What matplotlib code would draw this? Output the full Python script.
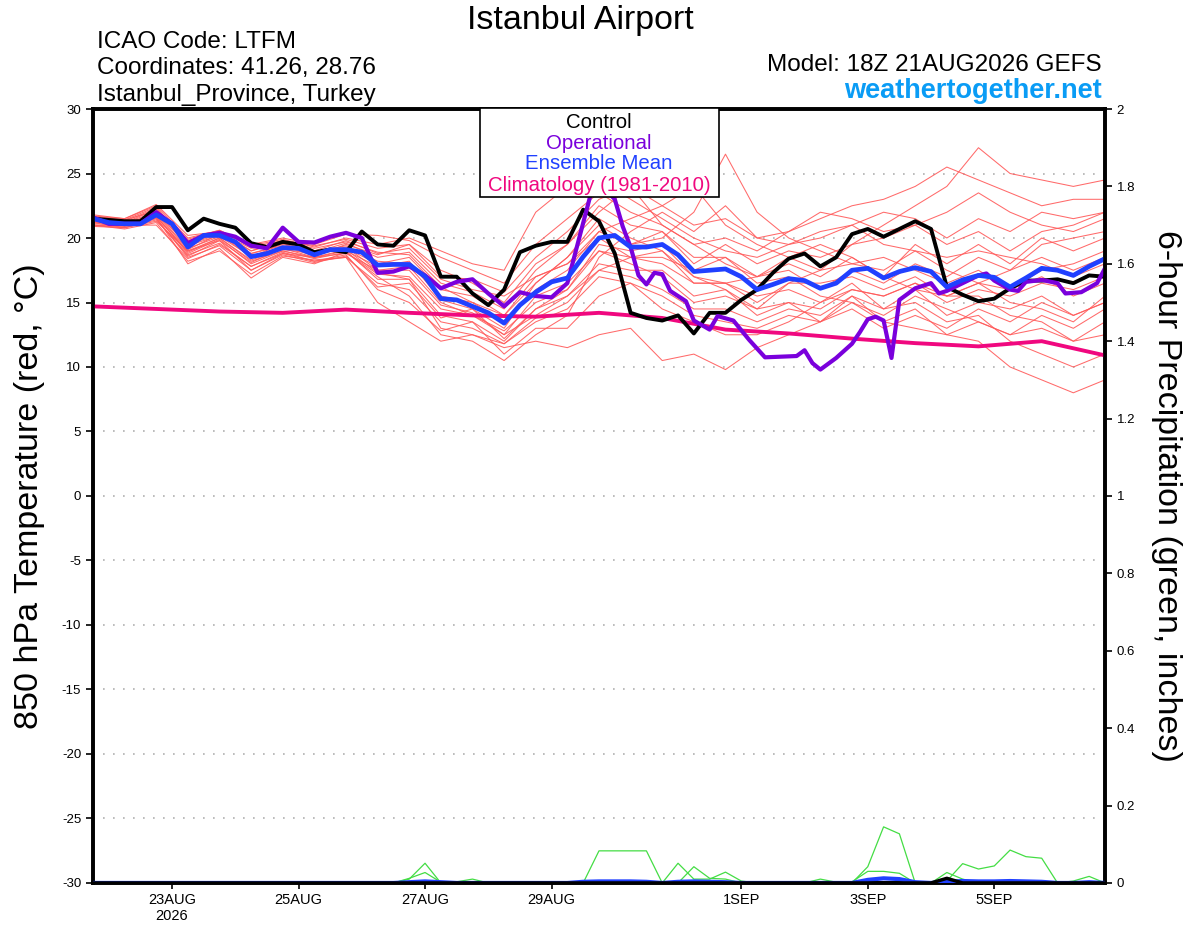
import matplotlib
matplotlib.use('Agg')
import matplotlib.pyplot as plt
from matplotlib.patches import Rectangle

plt.rcParams['font.family'] = ['Liberation Sans', 'DejaVu Sans']
plt.rcParams['axes.unicode_minus'] = False

# time axis: hours since 21AUG2026 18Z
hours6 = list(range(0, 385, 6))
hours12 = list(range(0, 385, 12))
hours24 = list(range(0, 385, 24))

date_ticks = [30, 78, 126, 174, 246, 294, 342]
date_labels = ['23AUG\n2026', '25AUG', '27AUG', '29AUG', '1SEP', '3SEP', '5SEP']

# 850 hPa temperature, deg C
control = [21.5, 21.4, 21.3, 21.3, 22.4, 22.4, 20.6, 21.5, 21.1, 20.8,
           19.6, 19.3, 19.7, 19.5, 18.9, 19.1, 18.9, 20.5, 19.5, 19.4,
           20.6, 20.2, 17.0, 17.0, 15.7, 14.8, 16.0, 18.9, 19.4, 19.7,
           19.7, 22.2, 21.3, 18.8, 14.2, 13.8, 13.6, 14.0, 12.6, 14.2,
           14.2, 15.2, 16.0, 17.3, 18.4, 18.8, 17.8, 18.5, 20.3, 20.7,
           20.1, 20.7, 21.3, 20.7, 16.2, 15.6, 15.1, 15.3, 16.1, 16.7,
           16.7, 16.8, 16.5, 17.1, 17.0]

ens_mean = [21.5, 21.2, 21.1, 21.1, 21.8, 21.1, 19.3, 20.2, 20.2, 19.7,
            18.55, 18.8, 19.25, 19.2, 18.7, 19.1, 19.1, 18.9, 17.9, 17.95,
            17.95, 17.0, 15.3, 15.2, 14.7, 14.2, 13.4, 14.8, 15.8, 16.6,
            16.9, 18.55, 20.0, 20.2, 19.3, 19.3, 19.5, 18.7, 17.4, 17.5,
            17.6, 17.0, 16.0, 16.4, 16.85, 16.7, 16.1, 16.5, 17.5, 17.65,
            16.9, 17.4, 17.7, 17.4, 16.2, 16.75, 17.1, 16.95, 16.2, 16.9,
            17.65, 17.5, 17.1, 17.8, 18.4]

op_hours = [0, 6, 12, 18, 24, 30, 36, 42, 48, 54, 60, 66, 72, 78, 84, 90,
            96, 102, 108, 114, 120, 126, 132, 138, 144, 150, 156, 162, 168,
            174, 180, 189, 192, 198, 201, 204, 207, 210, 213, 216, 219, 225,
            228, 234, 237, 243, 249, 255, 261, 267, 270, 273, 276, 282, 288,
            291, 294, 297, 300, 303, 306, 312, 315, 318, 321, 324, 330, 336,
            339, 342, 348, 351, 354, 360, 366, 369, 375, 381, 384]
op_temp = [21.6, 21.1, 21.1, 21.1, 22.0, 21.1, 19.6, 20.2, 20.4, 20.1, 19.4,
           19.2, 20.8, 19.7, 19.65, 20.1, 20.4, 20.0, 17.3, 17.4, 17.8, 17.1,
           16.1, 16.6, 16.8, 15.7, 14.7, 15.8, 15.5, 15.4, 16.5, 23.5, 24.3,
           23.0, 20.9, 19.3, 17.1, 16.4, 17.3, 17.2, 15.9, 15.1, 13.6, 12.9,
           13.95, 13.6, 12.1, 10.75, 10.8, 10.85, 11.3, 10.3, 9.8, 10.7, 11.8,
           12.7, 13.7, 13.9, 13.6, 10.7, 15.2, 16.1, 16.3, 16.5, 15.7, 15.9,
           16.5, 17.1, 17.25, 16.7, 16.0, 15.9, 16.6, 16.75, 16.5, 15.7, 15.8,
           16.5, 17.65]

climatology = [14.7, 14.5, 14.3, 14.2, 14.45, 14.2, 14.0, 13.9, 14.2,
               13.8, 12.9, 12.6, 12.2, 11.85, 11.6, 12.0, 10.9]

# ensemble members, 12-hourly
m01 = [21.3, 21.0, 22.0, 19.5, 20.3, 18.8, 19.5, 18.9, 19.6, 18.5, 18.9, 16.5, 15.8, 14.5, 17.5, 19.5, 22.5,
       21.0, 20.5, 18.0, 19.5, 18.0, 19.0, 18.5, 19.5, 20.0, 21.0, 19.5, 20.5, 19.0, 20.5, 21.0, 22.0]
m02 = [21.6, 21.3, 21.5, 18.6, 19.8, 17.5, 18.8, 18.2, 18.5, 16.5, 16.0, 13.5, 13.0, 11.8, 13.5, 14.5, 17.0,
       16.5, 15.5, 14.0, 13.5, 13.0, 14.0, 13.5, 15.0, 14.0, 15.5, 14.5, 13.5, 12.5, 14.0, 13.0, 14.5]
m03 = [21.0, 20.9, 21.6, 18.0, 19.2, 16.9, 18.5, 18.0, 18.9, 17.0, 15.5, 12.5, 12.0, 10.5, 12.5, 14.0, 18.5,
       20.5, 22.0, 20.5, 22.5, 20.0, 19.5, 20.0, 21.0, 19.5, 19.0, 17.5, 16.5, 15.0, 14.5, 13.5, 15.5]
m04 = [21.8, 21.5, 22.5, 20.0, 20.6, 19.5, 20.0, 19.5, 20.3, 20.2, 19.8, 18.5, 17.5, 16.5, 19.5, 21.5, 23.5,
       22.0, 21.0, 19.5, 18.0, 17.0, 18.0, 17.0, 18.5, 17.0, 19.5, 18.0, 19.5, 18.0, 20.0, 19.0, 20.0]
m05 = [21.2, 20.8, 21.3, 19.0, 20.0, 18.2, 19.0, 18.5, 18.8, 17.5, 17.8, 15.0, 14.0, 12.5, 14.0, 15.5, 18.0,
       17.5, 17.5, 15.5, 16.0, 14.5, 15.0, 14.5, 16.0, 15.5, 16.5, 15.0, 16.0, 15.5, 16.5, 16.0, 17.0]
m06 = [21.5, 21.2, 22.2, 19.8, 20.5, 19.0, 19.8, 19.0, 19.8, 18.8, 19.2, 16.8, 16.0, 15.5, 17.0, 18.0, 20.5,
       19.5, 20.0, 22.0, 26.5, 22.0, 20.0, 19.0, 18.0, 18.5, 17.5, 16.5, 17.5, 16.0, 17.0, 15.5, 16.5]
m07 = [21.1, 21.0, 21.0, 18.4, 19.5, 17.8, 18.8, 18.5, 19.0, 16.8, 16.8, 14.0, 13.5, 12.0, 14.5, 16.0, 19.0,
       18.5, 18.0, 16.5, 16.5, 15.0, 16.5, 17.5, 19.5, 21.0, 22.5, 24.0, 27.0, 25.0, 24.5, 24.0, 24.5]
m08 = [21.7, 21.4, 22.4, 19.6, 20.4, 19.2, 19.6, 18.7, 19.2, 18.0, 18.5, 16.0, 15.5, 14.0, 16.5, 18.5, 21.5,
       20.0, 19.0, 17.0, 16.5, 15.5, 16.0, 15.0, 16.5, 14.5, 15.0, 13.5, 14.0, 12.0, 11.0, 10.0, 11.0]
m09 = [21.4, 21.1, 21.9, 19.2, 20.1, 18.6, 19.3, 18.9, 19.4, 18.2, 18.0, 15.5, 15.0, 13.5, 16.0, 17.5, 20.5,
       21.5, 22.5, 21.0, 21.5, 20.0, 20.5, 21.5, 22.5, 23.0, 24.0, 25.5, 24.5, 23.5, 22.5, 23.0, 23.0]
m10 = [21.0, 20.7, 21.2, 18.2, 19.0, 17.2, 18.6, 18.3, 18.5, 15.0, 13.5, 12.0, 12.5, 11.5, 12.0, 11.5, 12.5,
       13.0, 10.5, 11.0, 9.8, 11.5, 12.5, 13.5, 14.5, 13.0, 14.0, 13.0, 14.5, 13.5, 15.0, 14.0, 15.0]
m11 = [21.6, 21.2, 22.0, 19.4, 20.2, 18.8, 19.4, 18.6, 19.5, 18.7, 19.5, 17.5, 16.5, 15.0, 18.0, 19.5, 22.0,
       24.0, 22.5, 24.0, 21.0, 19.5, 18.5, 19.5, 18.5, 17.0, 16.0, 15.5, 16.5, 17.5, 18.5, 17.5, 18.5]
m12 = [21.3, 20.9, 21.7, 18.8, 19.9, 18.0, 19.0, 18.4, 18.9, 17.2, 17.0, 14.5, 14.0, 12.8, 15.0, 16.0, 19.5,
       19.0, 19.5, 17.0, 16.0, 14.0, 15.0, 13.5, 15.5, 13.5, 14.5, 12.5, 12.0, 10.0, 9.0, 8.0, 9.0]
m13 = [21.5, 21.0, 21.8, 19.1, 20.3, 18.5, 19.6, 19.0, 19.0, 17.8, 18.2, 15.2, 14.5, 13.0, 16.5, 18.5, 21.0,
       19.5, 20.5, 18.5, 18.5, 17.0, 17.5, 16.0, 17.5, 16.5, 18.0, 17.0, 18.5, 17.5, 19.5, 20.0, 20.5]
m14 = [20.9, 20.8, 21.4, 18.7, 19.6, 17.8, 18.9, 18.2, 18.7, 16.0, 15.0, 12.8, 13.5, 11.0, 13.0, 13.0, 15.5,
       16.5, 14.5, 13.5, 12.5, 12.5, 13.5, 15.0, 16.0, 15.5, 16.5, 15.5, 15.5, 14.0, 13.5, 12.0, 12.5]
m15 = [21.7, 21.5, 22.6, 20.2, 20.5, 19.4, 19.9, 19.3, 20.0, 19.5, 20.0, 19.0, 18.0, 17.5, 22.0, 24.0, 24.5,
       23.0, 21.5, 20.0, 19.0, 18.5, 19.5, 20.5, 21.0, 22.0, 21.5, 20.0, 21.5, 20.5, 22.0, 21.5, 22.0]
m16 = [21.2, 21.1, 21.7, 18.9, 20.0, 18.3, 19.1, 18.8, 19.3, 17.5, 17.5, 14.8, 14.2, 12.5, 15.5, 16.5, 19.0,
       18.0, 17.0, 15.0, 15.5, 14.5, 16.5, 16.5, 17.0, 16.0, 17.0, 15.5, 16.5, 16.0, 17.5, 18.0, 19.0]
m17 = [21.4, 21.3, 22.3, 19.7, 20.4, 19.0, 19.7, 19.2, 19.7, 18.9, 18.7, 16.2, 15.0, 14.0, 17.0, 18.0, 20.0,
       18.5, 18.5, 17.5, 18.5, 16.5, 17.0, 15.5, 15.0, 13.5, 13.0, 12.5, 13.5, 12.5, 13.0, 12.0, 13.5]
m18 = [21.0, 20.8, 21.5, 18.5, 19.4, 17.5, 18.7, 18.1, 18.6, 16.2, 16.5, 13.8, 14.5, 12.2, 14.5, 15.5, 17.5,
       18.5, 19.0, 16.5, 16.5, 17.0, 18.5, 17.5, 18.0, 17.5, 19.0, 18.5, 19.0, 18.5, 18.0, 17.0, 18.0]
m19 = [21.6, 21.4, 22.1, 19.9, 20.6, 19.3, 19.8, 19.4, 19.9, 19.2, 19.5, 17.0, 16.8, 15.8, 18.5, 20.5, 23.0,
       24.0, 21.0, 19.5, 20.0, 19.0, 20.5, 22.0, 21.5, 20.5, 21.0, 22.0, 23.5, 22.0, 21.0, 20.5, 21.5]
m20 = [21.3, 21.0, 21.6, 19.0, 19.8, 18.1, 19.2, 18.5, 19.1, 17.3, 16.8, 13.0, 12.5, 11.8, 13.8, 15.0, 17.5,
       17.0, 16.0, 14.5, 14.5, 13.5, 14.5, 14.0, 15.5, 14.5, 16.0, 14.0, 15.0, 14.5, 15.5, 14.0, 15.0]
members = [m01, m02, m03, m04, m05, m06, m07, m08, m09, m10,
           m11, m12, m13, m14, m15, m16, m17, m18, m19, m20]

# 6-hour precipitation, inches (6-hourly, 65 values)
p01 = [0, 0, 0, 0, 0, 0, 0, 0, 0, 0, 0, 0, 0, 0, 0, 0, 0, 0, 0, 0, 0.01, 0.051, 0, 0, 0, 0, 0, 0, 0, 0, 0, 0,
       0.083, 0.083, 0.083, 0.083, 0, 0, 0, 0, 0, 0, 0, 0, 0, 0, 0, 0, 0, 0, 0, 0, 0, 0, 0, 0, 0, 0, 0, 0, 0,
       0, 0, 0, 0]
p02 = [0, 0, 0, 0, 0, 0, 0, 0, 0, 0, 0, 0, 0, 0, 0, 0, 0, 0, 0, 0, 0.012, 0.027, 0.002, 0.003, 0.01, 0, 0, 0,
       0, 0, 0, 0, 0, 0, 0, 0, 0, 0.051, 0.01, 0.01, 0.028, 0.005, 0, 0, 0, 0, 0, 0, 0, 0, 0, 0, 0, 0, 0, 0,
       0, 0, 0, 0, 0, 0, 0, 0, 0]
p03 = [0, 0, 0, 0, 0, 0, 0, 0, 0, 0, 0, 0, 0, 0, 0, 0, 0, 0, 0, 0, 0, 0, 0, 0, 0, 0, 0, 0, 0, 0, 0, 0, 0, 0,
       0, 0, 0, 0, 0.042, 0.012, 0.01, 0, 0, 0, 0, 0, 0.01, 0.002, 0.003, 0.03, 0.03, 0.025, 0, 0, 0, 0, 0, 0,
       0, 0, 0, 0, 0, 0, 0]
p04 = [0, 0, 0, 0, 0, 0, 0, 0, 0, 0, 0, 0, 0, 0, 0, 0, 0, 0, 0, 0, 0, 0, 0, 0, 0, 0, 0, 0, 0, 0, 0, 0, 0, 0,
       0, 0, 0, 0, 0, 0, 0, 0, 0, 0, 0, 0, 0, 0, 0, 0.042, 0.145, 0.127, 0, 0, 0.005, 0.05, 0.036, 0.044,
       0.085, 0.068, 0.064, 0, 0.005, 0.017, 0]
p05 = [0, 0, 0, 0, 0, 0, 0, 0, 0, 0, 0, 0, 0, 0, 0, 0, 0, 0, 0, 0, 0, 0, 0, 0, 0, 0, 0, 0, 0, 0, 0, 0, 0, 0,
       0, 0, 0, 0, 0, 0, 0, 0, 0, 0, 0, 0, 0, 0, 0, 0, 0, 0, 0, 0, 0.027, 0.01, 0, 0, 0, 0, 0, 0, 0, 0, 0]
precip_members = [p01, p02, p03, p04, p05]

pcp_mean = [0, 0, 0, 0, 0, 0, 0, 0, 0, 0, 0, 0, 0, 0, 0, 0, 0, 0, 0, 0, 0.002, 0.004, 0.002, 0, 0, 0, 0, 0,
            0, 0, 0, 0.003, 0.004, 0.004, 0.004, 0.003, 0, 0.003, 0.004, 0.003, 0.002, 0, 0, 0, 0, 0, 0, 0, 0,
            0.008, 0.012, 0.01, 0.002, 0, 0.003, 0.005, 0.004, 0.004, 0.005, 0.004, 0.003, 0, 0, 0.002, 0]
pcp_control = [0, 0, 0, 0, 0, 0, 0, 0, 0, 0, 0, 0, 0, 0, 0, 0, 0, 0, 0, 0, 0, 0, 0, 0, 0, 0, 0, 0, 0, 0, 0, 0,
               0, 0, 0, 0, 0, 0, 0, 0, 0, 0, 0, 0, 0, 0, 0, 0, 0, 0, 0, 0, 0, 0, 0.012, 0, 0, 0, 0, 0, 0, 0, 0,
               0, 0]

c_member = '#ff5a5a'
c_green = '#44dd44'
c_control = 'black'
c_op = '#7a00dc'
c_mean = '#2040ff'
c_clim = '#f0087f'

fig = plt.figure(figsize=(12, 9.27), dpi=100)
ax = fig.add_axes([0.0775, 0.0475, 0.8433, 0.8349])
ax2 = ax.twinx()

for m in members:
    ax.plot(hours12, m, color=c_member, lw=0.75, alpha=0.9, zorder=2)
ax.plot(hours24, climatology, color=c_clim, lw=2.8, zorder=4)
ax.plot(hours6, control, color=c_control, lw=2.8, zorder=5)
ax.plot(op_hours, op_temp, color=c_op, lw=3.0, zorder=6)
ax.plot(hours6, ens_mean, color=c_mean, lw=3.4, zorder=7)

ax.set_xlim(0, 384)
ax.set_ylim(-30, 30)
ax.set_yticks(range(-30, 31, 5))
ax.set_xticks(date_ticks)
ax.set_xticklabels(date_labels)
for yv in range(-25, 26, 5):
    ax.axhline(yv, color='#b0b0b0', lw=1.2, linestyle=(0, (1, 5)), zorder=1)

for p in precip_members:
    ax2.plot(hours6, p, color=c_green, lw=0.9, zorder=2)
ax2.plot(hours6, pcp_mean, color=c_mean, lw=3.0, zorder=3)
ax2.plot(hours6, pcp_control, color=c_control, lw=2.5, zorder=4)
ax2.set_ylim(0, 2)
ax2.set_yticks([0, 0.2, 0.4, 0.6, 0.8, 1.0, 1.2, 1.4, 1.6, 1.8, 2.0])
ax2.set_yticklabels(['0', '0.2', '0.4', '0.6', '0.8', '1', '1.2', '1.4', '1.6', '1.8', '2'])

for a in (ax, ax2):
    for s in a.spines.values():
        s.set_linewidth(2.6)
    a.tick_params(direction='out', length=5, width=1.2, labelsize=9.5)
ax.tick_params(axis='x', labelsize=10.5, length=4, pad=3)

ax.set_ylabel('850 hPa Temperature (red, °C)', fontsize=24.5, labelpad=12)
ax2.set_ylabel('6-hour Precipitation (green, inches)', fontsize=24.5, rotation=-90, labelpad=34)

# legend box
box = Rectangle((0.3824, 0.8863), 0.2362, 0.1147, transform=ax2.transAxes, facecolor='white',
                edgecolor='black', lw=1.2, zorder=20, clip_on=False)
ax2.add_patch(box)
leg_items = [('Control', c_control, 0.982), ('Operational', c_op, 0.956),
             ('Ensemble Mean', c_mean, 0.929), ('Climatology (1981-2010)', c_clim, 0.901)]
for txt, col, yy in leg_items:
    ax2.text(0.5, yy, txt, color=col, fontsize=14.7, ha='center', va='center',
             transform=ax2.transAxes, zorder=21)

# header texts
fig.text(0.484, 0.978, 'Istanbul Airport', fontsize=24.5, ha='center', va='center')
fig.text(0.081, 0.955, 'ICAO Code: LTFM', fontsize=17.5, ha='left', va='center')
fig.text(0.081, 0.927, 'Coordinates: 41.26, 28.76', fontsize=17.5, ha='left', va='center')
fig.text(0.081, 0.897, 'Istanbul_Province, Turkey', fontsize=17.5, ha='left', va='center')
fig.text(0.918, 0.930, 'Model: 18Z 21AUG2026 GEFS', fontsize=17.5, ha='right', va='center')
fig.text(0.918, 0.902, 'weathertogether.net', fontsize=19.5, ha='right', va='center',
         color='#0a9cf5', fontweight='bold')

fig.savefig('out.png', dpi=100)
